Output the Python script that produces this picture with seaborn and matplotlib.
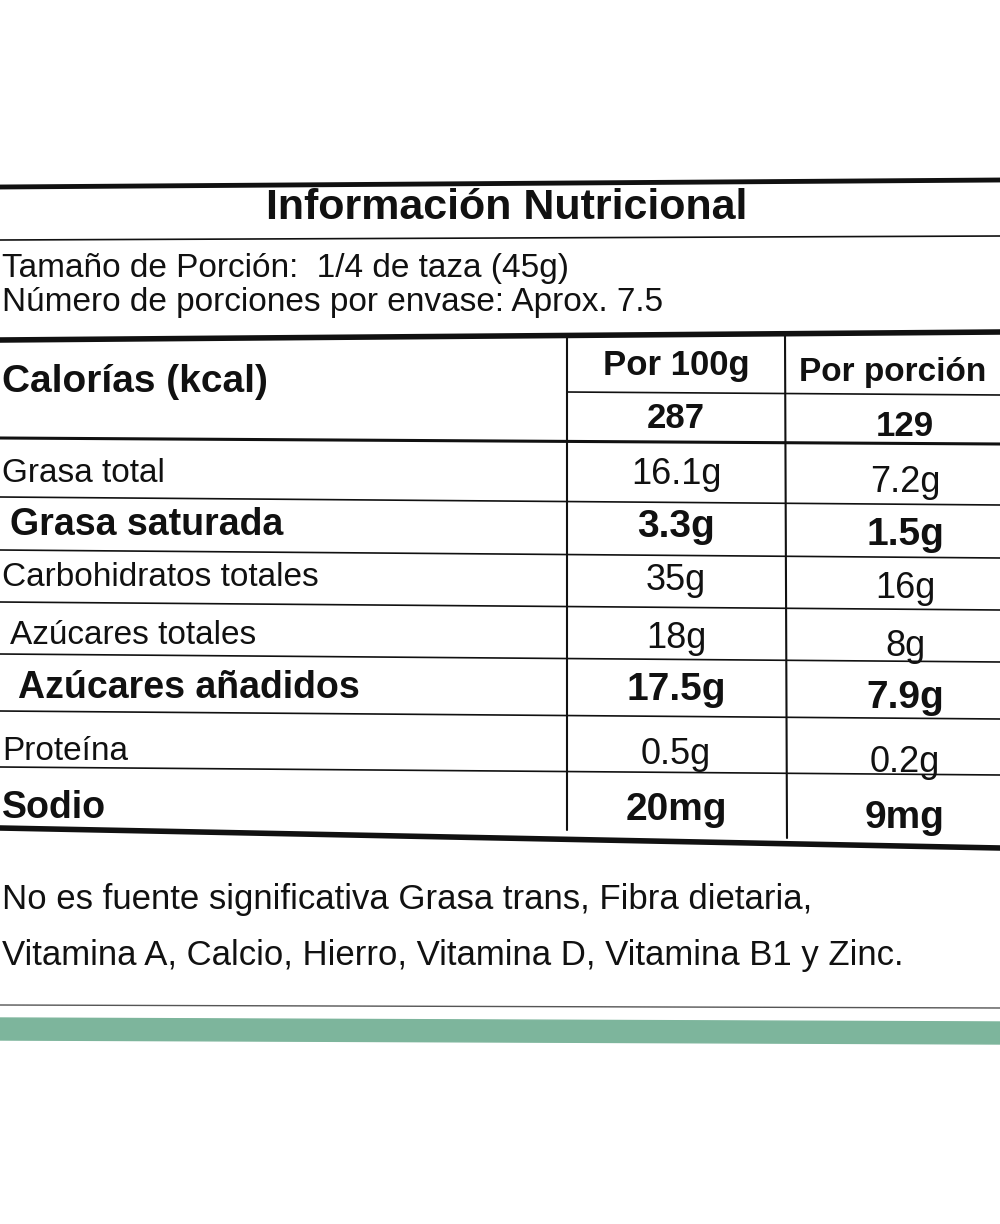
import matplotlib
matplotlib.use("Agg")
import matplotlib.pyplot as plt
import seaborn as sns

title = "Información Nutricional"
serving_lines = ["Tamaño de Porción:  1/4 de taza (45g)",
                 "Número de porciones por envase: Aprox. 7.5"]
col_heads = ["Por 100g", "Por porción"]
calories = ["287", "129"]
nutrients = ["Grasa total", "Grasa saturada", "Carbohidratos totales", "Azúcares totales",
             "Azúcares añadidos", "Proteína", "Sodio"]
per_100g = ["16.1g", "3.3g", "35g", "18g", "17.5g", "0.5g", "20mg"]
per_portion = ["7.2g", "1.5g", "16g", "8g", "7.9g", "0.2g", "9mg"]
bold_rows = [False, True, False, False, True, False, True]
indent = [0, 1, 0, 1, 2, 0, 0]
footnote = ["No es fuente significativa Grasa trans, Fibra dietaria,",
            "Vitamina A, Calcio, Hierro, Vitamina D, Vitamina B1 y Zinc."]

sns.set_theme(style="white")
plt.rcParams["font.family"] = "Liberation Sans"
fig = plt.figure(figsize=(10, 12.24), dpi=100)
ax = fig.add_axes([0, 0, 1, 1])
ax.set_xlim(0, 1000)
ax.set_ylim(1224, 0)
ax.axis("off")

ink = "#111111"
# borders
ax.plot([0, 1000], [187, 180], color=ink, lw=3.5)
ax.text(507, 208, title, ha="center", va="center", fontsize=31, weight="bold", color=ink)
ax.plot([0, 1000], [240, 236], color=ink, lw=1.2)
ax.text(2, 268, serving_lines[0], ha="left", va="center", fontsize=24, color=ink)
ax.text(2, 302, serving_lines[1], ha="left", va="center", fontsize=24, color=ink)
ax.plot([0, 1000], [340, 332], color=ink, lw=4)

# header
x1, x2 = 676, 893
ax.text(2, 382, "Calorías (kcal)", ha="left", va="center", fontsize=28, weight="bold", color=ink)
ax.text(x1, 366, col_heads[0], ha="center", va="center", fontsize=25, weight="bold", color=ink)
ax.text(x2, 372, col_heads[1], ha="center", va="center", fontsize=24, weight="bold", color=ink)
ax.plot([567, 1000], [392, 395], color=ink, lw=1.2)
ax.text(x1, 418, calories[0], ha="center", va="center", fontsize=25, weight="bold", color=ink)
ax.text(x2 + 12, 427, calories[1], ha="center", va="center", fontsize=25, weight="bold", color=ink)
ax.plot([0, 1000], [438, 444], color=ink, lw=2.2)

row_y = [473, 525, 578, 636, 688, 752, 808]
line_y = [500, 553, 605, 657, 714, 770]
for i, name in enumerate(nutrients):
    y = row_y[i]
    w = "bold" if bold_rows[i] else "normal"
    fs = 27 if bold_rows[i] else 24
    vfs = 28 if bold_rows[i] else 26
    ax.text(2 + indent[i] * 8, y, name, ha="left", va="center", fontsize=fs, weight=w, color=ink)
    ax.text(x1, y + 2, per_100g[i], ha="center", va="center", fontsize=vfs, weight=w, color=ink)
    ax.text(x2 + 12, y + 10, per_portion[i], ha="center", va="center", fontsize=vfs, weight=w, color=ink)
for y in line_y:
    ax.plot([0, 1000], [y - 3, y + 5], color=ink, lw=1.2)
ax.plot([0, 1000], [828, 848], color=ink, lw=4)

# column separators
ax.plot([567, 567], [336, 830], color=ink, lw=1.5)
ax.plot([785, 787], [334, 838], color=ink, lw=1.5)

ax.text(2, 900, footnote[0], ha="left", va="center", fontsize=25, color=ink)
ax.text(2, 955, footnote[1], ha="left", va="center", fontsize=25, color=ink)

ax.plot([0, 1000], [1005, 1008], color="#555555", lw=1)
ax.fill_between([0, 1000], [1018, 1022], [1040, 1044], color="#7db59c")

fig.savefig("out.png", dpi=100, facecolor="white")
